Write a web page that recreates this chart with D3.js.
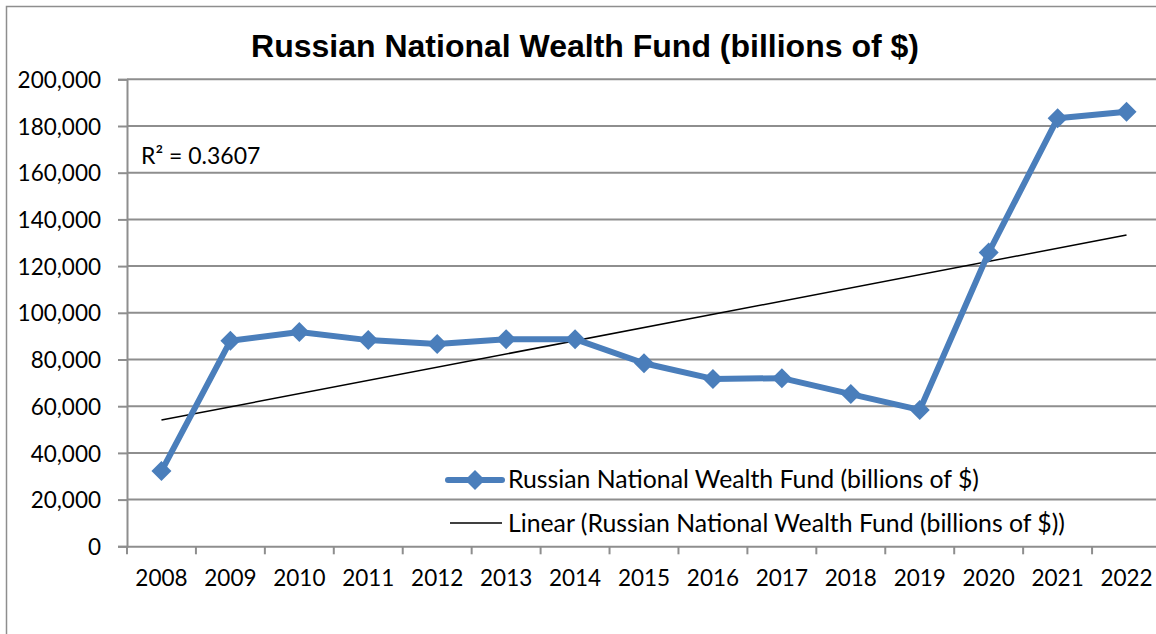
<!DOCTYPE html>
<html lang="en">
<head>
<meta charset="utf-8">
<script src="https://d3js.org/d3.v7.min.js"></script>
<style>
  body { margin: 0; background: #fff; }
  text { font-family: Lato, "Noto Sans", sans-serif; fill: #000; }
</style>
</head>
<body>
<script>
// data
var years = ["2008","2009","2010","2011","2012","2013","2014","2015","2016","2017","2018","2019","2020","2021","2022"];
var fund = [32200, 88000, 91800, 88300, 86600, 88700, 88700, 78400, 71700, 72000, 65200, 58400, 125800, 183300, 186100];
var yTicks = [0, 20000, 40000, 60000, 80000, 100000, 120000, 140000, 160000, 180000, 200000];
var title = "Russian National Wealth Fund (billions of $)";
var legendNames = ["Russian National Wealth Fund (billions of $)", "Linear (Russian National Wealth Fund (billions of $))"];
var r2Label = "R\u00b2 = 0.3607";

var w = 1156, h = 634;
var plotL = 127, plotR = 1161, plotT = 79.3, plotB = 546.3;
var blue = "#4a7ebb";
var grid = "#8e8e8e";

var svg = d3.select("body").append("svg")
  .attr("width", w).attr("height", h);

// outer chart border
svg.append("rect")
  .attr("x", 6.5).attr("y", 6.5)
  .attr("width", 1300).attr("height", 800)
  .attr("fill", "none").attr("stroke", grid).attr("stroke-width", 1.5);

var x = d3.scaleBand().domain(years).range([plotL, plotR]).padding(0);
var y = d3.scaleLinear().domain([0, 200000]).range([plotB, plotT]);
var cx = function(d) { return x(d) + x.bandwidth() / 2; };

// gridlines
svg.append("g").selectAll("line")
  .data(yTicks.slice(1))
  .enter().append("line")
  .attr("x1", plotL).attr("x2", plotR)
  .attr("y1", function(d) { return y(d); })
  .attr("y2", function(d) { return y(d); })
  .attr("stroke", grid).attr("stroke-width", 2);

// y axis
var yAxis = svg.append("g")
  .attr("transform", "translate(" + plotL + ",0)")
  .call(d3.axisLeft(y).tickValues(yTicks).tickSize(9).tickPadding(17)
    .tickFormat(d3.format(",")));
yAxis.select(".domain").attr("stroke", grid).attr("stroke-width", 2);
yAxis.selectAll(".tick line").attr("stroke", grid).attr("stroke-width", 2);
yAxis.selectAll("text").attr("font-size", 22.5).attr("font-family", "Lato").attr("dy", "0.36em");

// x axis, ticks between categories
var xAxis = svg.append("g")
  .attr("transform", "translate(0," + plotB + ")")
  .call(d3.axisBottom(x).tickSize(0).tickPadding(28));
xAxis.select(".domain").attr("stroke", grid).attr("stroke-width", 2);
xAxis.selectAll("text").attr("font-size", 22.5).attr("font-family", "Lato");
xAxis.selectAll(".tick text").attr("dy", "0.5em");
svg.append("g").selectAll("line")
  .data(years)
  .enter().append("line")
  .attr("x1", function(d) { return x(d); })
  .attr("x2", function(d) { return x(d); })
  .attr("y1", plotB).attr("y2", plotB + 8)
  .attr("stroke", grid).attr("stroke-width", 2);

// linear trend line (least squares)
var n = fund.length;
var mx = d3.mean(fund, function(d, i) { return i; });
var my = d3.mean(fund);
var sxy = d3.sum(fund, function(d, i) { return (i - mx) * (d - my); });
var sxx = d3.sum(fund, function(d, i) { return (i - mx) * (i - mx); });
var slope = sxy / sxx, icpt = my - slope * mx;
svg.append("line")
  .attr("x1", cx(years[0])).attr("y1", y(icpt))
  .attr("x2", cx(years[n - 1])).attr("y2", y(icpt + slope * (n - 1)))
  .attr("stroke", "#000").attr("stroke-width", 1.5);

// series
var line = d3.line()
  .x(function(d, i) { return cx(years[i]); })
  .y(function(d) { return y(d); });
svg.append("path")
  .datum(fund)
  .attr("d", line)
  .attr("fill", "none").attr("stroke", blue)
  .attr("stroke-width", 6).attr("stroke-linejoin", "round");

var diamond = d3.symbol().type(d3.symbolSquare).size(200);
svg.append("g").selectAll("path")
  .data(fund)
  .enter().append("path")
  .attr("d", diamond)
  .attr("transform", function(d, i) { return "translate(" + cx(years[i]) + "," + y(d) + ") rotate(45)"; })
  .attr("fill", blue);

// title
svg.append("text")
  .attr("x", 585).attr("y", 57)
  .attr("text-anchor", "middle")
  .attr("font-weight", "bold").attr("font-size", 32)
  .style("font-family", "'Liberation Sans', Arial, sans-serif")
  .text(title);

// R squared label
svg.append("text")
  .attr("x", 141).attr("y", 164)
  .attr("font-size", 23)
  .text(r2Label);

// legend
var leg = svg.append("g").attr("transform", "translate(448,0)");
leg.append("line").attr("x1", 0).attr("x2", 54).attr("y1", 480).attr("y2", 480)
  .attr("stroke", blue).attr("stroke-width", 6).attr("stroke-linecap", "round");
leg.append("path").attr("d", diamond)
  .attr("transform", "translate(27,480) rotate(45)").attr("fill", blue);
leg.append("line").attr("x1", 2).attr("x2", 54).attr("y1", 523).attr("y2", 523)
  .attr("stroke", "#000").attr("stroke-width", 1.5);
leg.selectAll("text.lg")
  .data(legendNames)
  .enter().append("text")
  .attr("class", "lg")
  .attr("x", 60)
  .attr("y", function(d, i) { return 488 + i * 44; })
  .attr("font-size", 24.8)
  .text(function(d) { return d; });
</script>
</body>
</html>
